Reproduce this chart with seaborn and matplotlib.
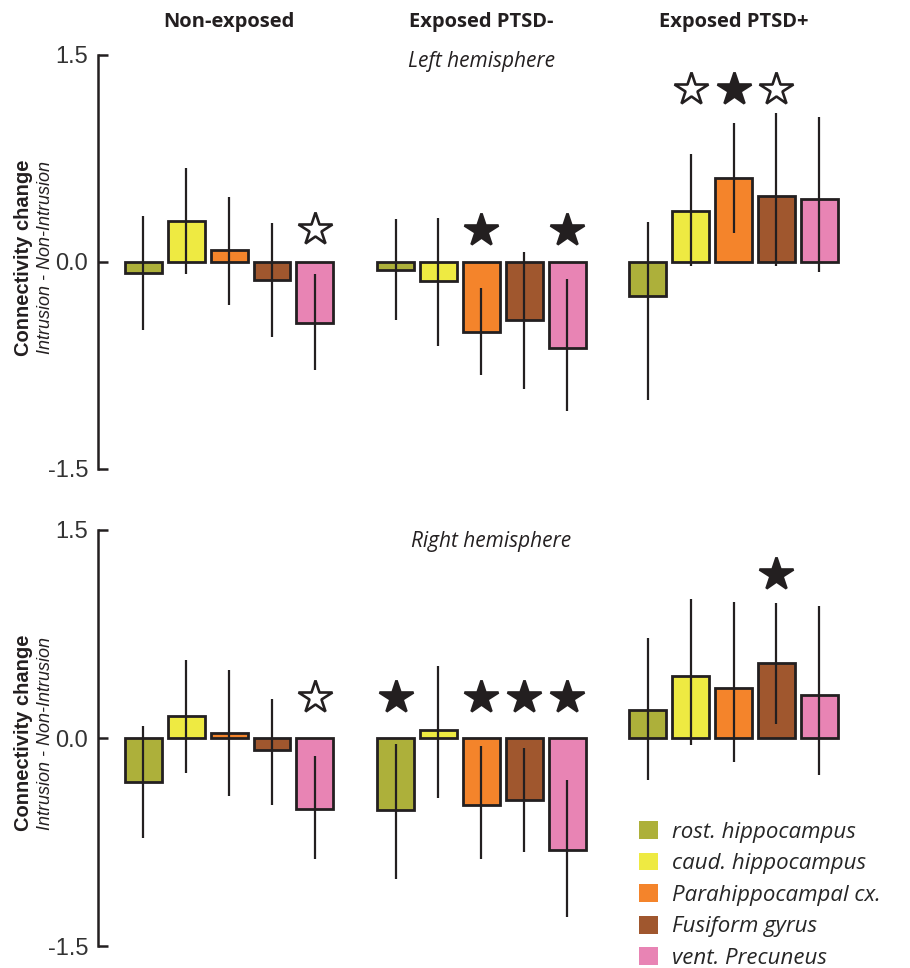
import pandas as pd
import matplotlib.pyplot as plt
import seaborn as sns
from matplotlib.patches import Patch

# DATA -------------------------------------------------------------
groups = ['Non-exposed', 'Exposed PTSD-', 'Exposed PTSD+']
regions = ['rost. hippocampus', 'caud. hippocampus', 'Parahippocampal cx.',
           'Fusiform gyrus', 'vent. Precuneus']
colors = ['#adb03a', '#eeea42', '#f4842b', '#a0572e', '#e884b4']

# left hemisphere (rows = groups, cols = regions)
left_mean = [[-0.08, 0.30, 0.085, -0.13, -0.44],
             [-0.055, -0.14, -0.51, -0.42, -0.62],
             [-0.25, 0.37, 0.61, 0.48, 0.46]]
left_low = [[-0.49, -0.09, -0.31, -0.54, -0.78],
            [-0.42, -0.61, -0.82, -0.92, -1.08],
            [-1.00, -0.03, 0.21, -0.03, -0.07]]
left_high = [[0.33, 0.68, 0.47, 0.28, -0.085],
             [0.31, 0.32, -0.19, 0.07, -0.125],
             [0.29, 0.78, 1.01, 1.08, 1.05]]
left_stars = [['', '', '', '', 'open'],
              ['', '', 'filled', '', 'filled'],
              ['', 'open', 'filled', 'open', '']]
left_star_y = [0.24, 0.23, 1.25]

# right hemisphere
right_mean = [[-0.32, 0.16, 0.036, -0.085, -0.51],
              [-0.52, 0.055, -0.48, -0.445, -0.805],
              [0.20, 0.45, 0.36, 0.54, 0.31]]
right_low = [[-0.72, -0.25, -0.42, -0.48, -0.87],
             [-1.02, -0.43, -0.87, -0.82, -1.29],
             [-0.30, -0.05, -0.17, 0.10, -0.27]]
right_high = [[0.09, 0.56, 0.49, 0.28, -0.13],
              [-0.04, 0.52, -0.06, -0.07, -0.30],
              [0.72, 1.00, 0.98, 0.97, 0.95]]
right_stars = [['', '', '', '', 'open'],
               ['filled', '', 'filled', 'filled', 'filled'],
               ['', '', '', 'filled', '']]
right_star_y = [0.295, 0.295, 1.18]

sns.set_style('white')
plt.rcParams['font.family'] = ['Liberation Sans Narrow', 'Liberation Sans', 'DejaVu Sans']
dark = '#231f20'
title_font = ['Open Sans', 'DejaVu Sans']

fig = plt.figure(figsize=(9.1, 9.68), dpi=100)
ax_top = fig.add_axes([0.1077, 0.5155, 0.837, 0.4277])
ax_bot = fig.add_axes([0.1077, 0.0227, 0.837, 0.4298])

WIDTH = 0.85
slot = WIDTH / len(regions)


def draw_panel(ax, mean, low, high, stars, star_y):
    rows = []
    for gi, g in enumerate(groups):
        for ri, r in enumerate(regions):
            rows.append({'group': g, 'region': r, 'value': mean[gi][ri]})
    df = pd.DataFrame(rows)
    sns.barplot(data=df, x='group', y='value', hue='region', order=groups,
                hue_order=regions, palette=colors, saturation=1, width=WIDTH,
                gap=0.14, edgecolor=dark, linewidth=2.0, errorbar=None,
                legend=False, ax=ax)
    # error lines and stars
    for gi in range(len(groups)):
        for ri in range(len(regions)):
            x = gi + (ri - 2) * slot
            ax.vlines(x, low[gi][ri], high[gi][ri], color=dark, lw=1.6, zorder=4)
            kind = stars[gi][ri]
            if kind:
                ax.plot(x, star_y[gi], marker='*', ms=25, mew=1.9, mec=dark,
                        mfc='white' if kind == 'open' else dark, zorder=5,
                        clip_on=False)
    ax.set_ylim(-1.5, 1.5)
    ax.set_xlim(-0.52, 2.50)
    ax.set_yticks([-1.5, 0.0, 1.5])
    ax.set_yticklabels(['-1.5', '0.0', '1.5'])
    ax.set_xticks([])
    ax.set_xlabel('')
    ax.set_ylabel('')
    for s in ['top', 'right', 'bottom']:
        ax.spines[s].set_visible(False)
    ax.spines['left'].set_linewidth(1.8)
    ax.spines['left'].set_color(dark)
    ax.tick_params(axis='y', left=True, direction='in', length=7, width=1.8,
                   color=dark, labelcolor='#333333', labelsize=17, pad=7)


draw_panel(ax_top, left_mean, left_low, left_high, left_stars, left_star_y)
draw_panel(ax_bot, right_mean, right_low, right_high, right_stars, right_star_y)

# column titles
for gi, g in enumerate(groups):
    ax_top.text(gi, 1.74, g, ha='center', va='center', fontsize=14.5,
                fontweight='bold', family=title_font, color=dark, clip_on=False)

ax_top.text(1.0, 1.45, 'Left hemisphere', ha='center', va='center', fontsize=15,
            fontstyle='italic', family=title_font, color=dark)
ax_bot.text(1.04, 1.42, 'Right hemisphere', ha='center', va='center', fontsize=15,
            fontstyle='italic', family=title_font, color=dark)

# y labels
for yc in [1 - 258 / 968, 1 - 733 / 968]:
    fig.text(24 / 910, yc, 'Connectivity change', rotation=90, ha='center',
             va='center', fontsize=14.5, fontweight='bold', color=dark)
    fig.text(46 / 910, yc, 'Intrusion - Non-Intrusion', rotation=90, ha='center',
             va='center', fontsize=13, fontstyle='italic', color=dark)

# legend
handles = [Patch(facecolor=c, edgecolor='none') for c in colors]
fig.legend(handles, regions, loc='upper left', bbox_to_anchor=(0.690, 1 - 810 / 968),
           frameon=False, borderpad=0, handlelength=0.85, handleheight=0.85,
           handletextpad=0.65, labelspacing=0.45,
           prop={'family': title_font, 'style': 'italic', 'size': 16})

plt.savefig('out.png', dpi=100)
